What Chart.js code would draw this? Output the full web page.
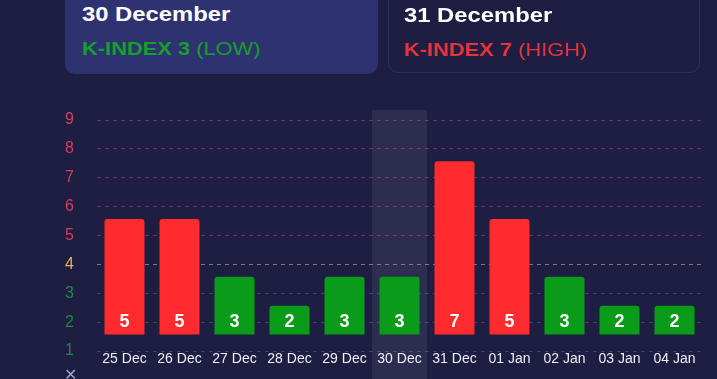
<!DOCTYPE html>
<html>
<head>
<meta charset="utf-8">
<script src="https://cdn.jsdelivr.net/npm/chart.js@4.4.1/dist/chart.umd.min.js"></script>
<style>
  html, body { margin: 0; padding: 0; width: 717px; height: 379px; overflow: hidden; background: #1d1e42; font-family: Arial, "Liberation Sans", sans-serif; }
  #kpChart { position: absolute; left: 0; top: 0; }
  .card { position: absolute; top: -20px; height: 94px; border-radius: 10px; box-sizing: border-box; }
  .card.active { left: 65px; width: 313px; background: #2f3270; }
  .card.next { left: 388px; width: 312px; border: 1px solid rgba(255,255,255,0.09); height: 93px; }
  .card .title { position: absolute; left: 17px; top: 22px; color: #fff; font-weight: bold; font-size: 20px; line-height: 24px; white-space: nowrap; transform: scaleX(1.19); transform-origin: left center; }
  .card .level { position: absolute; left: 17px; top: 58px; font-size: 19px; line-height: 22px; white-space: nowrap; transform: scaleX(1.15); transform-origin: left center; }
  .card.next .title, .card.next .level { left: 15px; }
  .card .level b { font-weight: bold; }
  .low { color: #13a02d; }
  .high { color: #e8323c; }
  #close { position: absolute; left: 64px; top: 367px; color: #9ea3cc; font-size: 16px; line-height: 16px; }
</style>
</head>
<body>
<canvas id="kpChart" width="717" height="379"></canvas>
<div class="card active">
  <div class="title">30 December</div>
  <div class="level low"><b>K-INDEX 3</b> (LOW)</div>
</div>
<div class="card next">
  <div class="title">31 December</div>
  <div class="level high"><b>K-INDEX 7</b> (HIGH)</div>
</div>
<div id="close">✕</div>
<script>
// days shown on the x axis
const days = ['25 Dec', '26 Dec', '27 Dec', '28 Dec', '29 Dec', '30 Dec', '31 Dec', '01 Jan', '02 Jan', '03 Jan', '04 Jan'];
// daily max K-index
const kIndex = [5, 5, 3, 2, 3, 3, 7, 5, 3, 2, 2];
// y axis range (tick labels 1..9)
const yMin = 1;
const yMax = 9;
const selectedDay = '30 Dec';

const RED = '#ff2b2e';
const GREEN = '#0a9c19';

const levelColor = v => v >= 5 ? '#dc3c52' : (v === 4 ? '#e5b250' : '#1d8a3c');
const gridColor = v => v >= 5 ? 'rgba(200,70,130,0.5)' : (v === 4 ? 'rgba(230,205,160,0.5)' : 'rgba(150,150,205,0.28)');

// highlight band behind selected day + value labels inside bars
const kpPlugin = {
    id: 'kpPlugin',
    beforeDraw(chart) {
        const x = chart.scales.x;
        const idx = days.indexOf(selectedDay);
        if (idx < 0) return;
        const w = (x.right - x.left) / days.length;
        const cx = x.getPixelForValue(idx);
        const ctx = chart.ctx;
        ctx.save();
        ctx.fillStyle = 'rgba(255,255,255,0.07)';
        ctx.fillRect(cx - w / 2, chart.chartArea.top - 10, w, chart.height);
        ctx.restore();
    },
    afterDatasetsDraw(chart) {
        const ctx = chart.ctx;
        const meta = chart.getDatasetMeta(0);
        ctx.save();
        ctx.fillStyle = '#ffffff';
        ctx.font = 'bold 18px Arial, "Liberation Sans", sans-serif';
        ctx.textAlign = 'center';
        ctx.textBaseline = 'middle';
        meta.data.forEach((bar, i) => {
            ctx.fillText(String(kIndex[i]), bar.x, bar.base - 13);
        });
        ctx.restore();
    }
};

new Chart(document.getElementById('kpChart'), {
    type: 'bar',
    data: {
        labels: days,
        datasets: [{
            data: kIndex,
            base: 1,
            yAxisID: 'y2',
            backgroundColor: kIndex.map(v => v >= 5 ? RED : GREEN),
            borderRadius: 3,
            borderSkipped: 'start',
            categoryPercentage: 1,
            barPercentage: 0.727
        }]
    },
    options: {
        responsive: false,
        animation: false,
        layout: { padding: { top: 120, right: 15, left: 65, bottom: 0 } },
        plugins: { legend: { display: false }, tooltip: { enabled: false } },
        scales: {
            x: {
                afterFit: s => { s.height = 28; },
                grid: { display: false, drawTicks: false },
                border: { display: false },
                ticks: { color: '#eceef8', font: { size: 14, family: 'Arial, "Liberation Sans", sans-serif' }, padding: 0, maxRotation: 0, autoSkip: false }
            },
            y: {
                min: yMin,
                max: yMax,
                afterFit: s => { s.width = 32; },
                ticks: {
                    stepSize: 1,
                    padding: 0,
                    crossAlign: 'far',
                    color: ctx => levelColor(ctx.tick.value),
                    font: { size: 16, family: 'Arial, "Liberation Sans", sans-serif' }
                },
                grid: { color: ctx => gridColor(ctx.tick.value), drawTicks: false, lineWidth: 1 },
                border: { display: false, dash: [4, 4] }
            },
            y2: { display: false, min: 0.43, max: 8.43 }
        }
    },
    plugins: [kpPlugin]
});
</script>
</body>
</html>
